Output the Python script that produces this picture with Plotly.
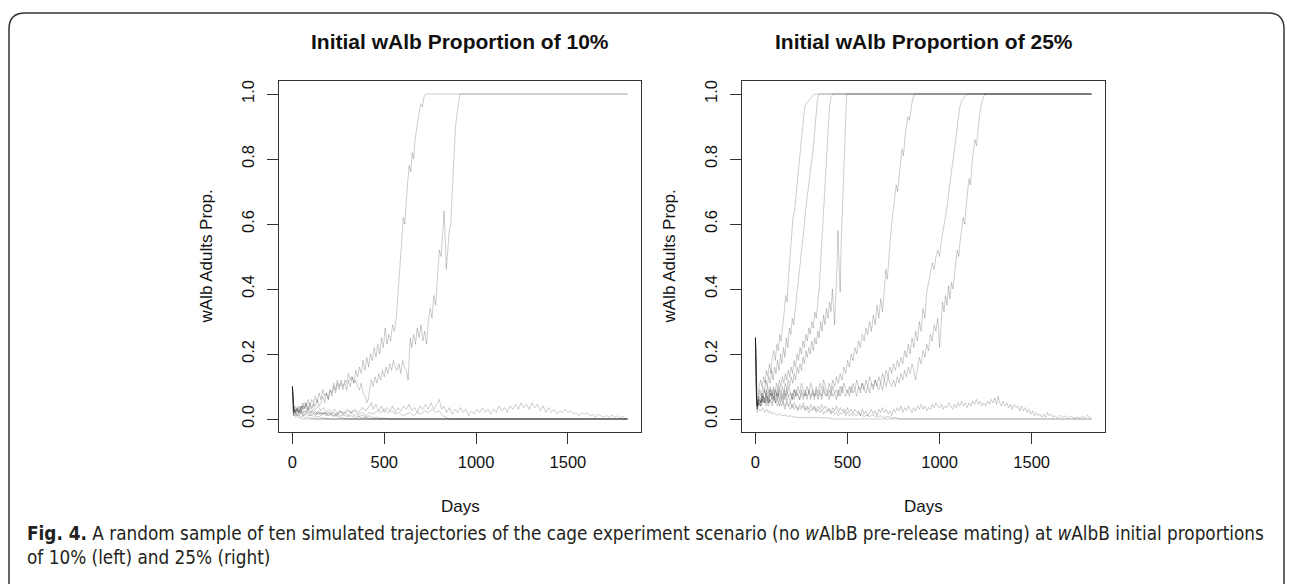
import plotly.graph_objects as go

# ---------------- data ----------------
x_ticks = [0, 500, 1000, 1500]
y_ticks = [0.0, 0.2, 0.4, 0.6, 0.8, 1.0]
titles = ["Initial wAlb Proportion of 10%", "Initial wAlb Proportion of 25%"]
x_label = "Days"
y_label = "wAlb Adults Prop."
caption_1 = ("<b>Fig. 4.</b> A random sample of ten simulated trajectories of the cage experiment scenario "
             "(no <i>w</i>AlbB pre-release mating) at <i>w</i>AlbB initial proportions")
caption_2 = "of 10% (left) and 25% (right)"

# ---- left panel: initial proportion 10% (day, proportion) ----
p10_a = [(0,0.10),(4,0.05),(8,0.03),(15,0.02),(25,0.03),(35,0.02),(45,0.04),(55,0.03),(65,0.05),(75,0.04),(85,0.06),(95,0.04),(105,0.06),(115,0.05),(125,0.07),(135,0.05),(145,0.08),(155,0.06),(165,0.09),(175,0.07),(185,0.08),(195,0.06),(205,0.09),(215,0.08),(225,0.11),(235,0.09),(245,0.12),(255,0.10),(265,0.11),(275,0.09),(285,0.12),(295,0.11),(305,0.14),(315,0.12),(325,0.13),(335,0.11),(345,0.15),(355,0.13),(365,0.16),(375,0.14),(385,0.18),(395,0.15),(405,0.19),(415,0.16),(425,0.20),(435,0.18),(445,0.22),(455,0.19),(465,0.23),(475,0.20),(485,0.25),(495,0.22),(505,0.28),(515,0.23),(525,0.26),(535,0.24),(545,0.29),(555,0.27),(565,0.31),(572,0.36),(580,0.42),(588,0.50),(596,0.57),(604,0.62),(612,0.60),(620,0.68),(628,0.73),(636,0.78),(644,0.76),(652,0.82),(660,0.80),(668,0.86),(676,0.90),(684,0.92),(692,0.95),(700,0.97),(708,0.96),(716,0.99),(725,1.0),(1825,1.0)]
p10_b = [(0,0.10),(4,0.05),(8,0.02),(15,0.03),(25,0.02),(35,0.03),(45,0.02),(55,0.04),(65,0.03),(75,0.05),(85,0.03),(95,0.04),(105,0.03),(115,0.05),(125,0.04),(135,0.06),(145,0.04),(155,0.05),(165,0.07),(175,0.05),(185,0.08),(195,0.06),(205,0.09),(215,0.07),(225,0.10),(235,0.08),(245,0.11),(255,0.09),(265,0.12),(275,0.10),(285,0.11),(295,0.09),(305,0.12),(315,0.10),(325,0.13),(335,0.11),(345,0.12),(355,0.10),(365,0.09),(375,0.11),(385,0.08),(395,0.07),(405,0.05),(412,0.06),(420,0.09),(430,0.12),(440,0.10),(450,0.13),(460,0.11),(470,0.14),(480,0.12),(490,0.15),(500,0.13),(510,0.16),(520,0.14),(530,0.17),(540,0.15),(550,0.18),(560,0.16),(570,0.15),(580,0.17),(590,0.14),(600,0.18),(610,0.16),(620,0.15),(630,0.12),(636,0.19),(642,0.25),(650,0.22),(660,0.26),(670,0.23),(680,0.28),(690,0.25),(700,0.29),(710,0.24),(720,0.27),(730,0.23),(740,0.30),(750,0.34),(760,0.31),(770,0.38),(780,0.35),(790,0.44),(800,0.52),(810,0.50),(818,0.58),(826,0.64),(832,0.55),(838,0.46),(846,0.52),(854,0.58),(862,0.60),(868,0.68),(874,0.76),(880,0.84),(888,0.90),(896,0.94),(904,0.97),(912,1.0),(1825,1.0)]
p10_c = [(0,0.10),(4,0.05),(8,0.03),(15,0.02),(30,0.01),(45,0.02),(60,0.01),(80,0.02),(100,0.01),(120,0.02),(140,0.015),(160,0.02),(180,0.01),(200,0.02),(220,0.015),(240,0.01),(260,0.02),(280,0.015),(300,0.025),(320,0.02),(340,0.03),(360,0.02),(380,0.035),(400,0.025),(420,0.04),(430,0.05),(440,0.03),(455,0.045),(470,0.025),(485,0.04),(500,0.02),(515,0.035),(530,0.025),(545,0.04),(560,0.02),(575,0.035),(590,0.025),(605,0.04),(620,0.03),(635,0.045),(650,0.025),(665,0.035),(680,0.02),(695,0.04),(710,0.03),(725,0.045),(740,0.03),(755,0.05),(770,0.03),(785,0.045),(800,0.06),(812,0.03),(825,0.04),(840,0.02),(855,0.035),(870,0.015),(885,0.03),(900,0.02),(915,0.035),(930,0.02),(945,0.03),(960,0.01),(975,0.025),(990,0.015),(1005,0.03),(1020,0.02),(1035,0.035),(1050,0.02),(1065,0.03),(1080,0.015),(1095,0.03),(1110,0.02),(1125,0.04),(1140,0.025),(1155,0.035),(1170,0.02),(1185,0.04),(1200,0.03),(1215,0.045),(1230,0.03),(1245,0.05),(1260,0.035),(1275,0.045),(1290,0.03),(1305,0.05),(1320,0.035),(1335,0.045),(1350,0.025),(1365,0.04),(1380,0.02),(1395,0.035),(1410,0.02),(1425,0.03),(1440,0.015),(1455,0.025),(1470,0.02),(1485,0.03),(1500,0.02),(1515,0.025),(1530,0.015),(1545,0.02),(1560,0.01),(1575,0.02),(1590,0.015),(1605,0.02),(1620,0.01),(1635,0.015),(1650,0.005),(1665,0.015),(1680,0.01),(1695,0.005),(1710,0.01),(1725,0.005),(1740,0.012),(1755,0.005),(1770,0.01),(1785,0.003),(1800,0.008),(1812,0.0),(1825,0.0)]
p10_d = [(0,0.10),(4,0.04),(8,0.02),(20,0.03),(35,0.02),(50,0.03),(65,0.02),(80,0.025),(95,0.015),(110,0.02),(125,0.01),(140,0.02),(160,0.015),(180,0.02),(200,0.01),(220,0.02),(240,0.015),(260,0.025),(280,0.02),(300,0.03),(320,0.02),(340,0.025),(360,0.015),(380,0.02),(400,0.01),(420,0.02),(440,0.015),(460,0.025),(480,0.02),(500,0.03),(520,0.02),(540,0.025),(560,0.015),(580,0.02),(600,0.01),(620,0.015),(640,0.02),(660,0.01),(680,0.02),(700,0.015),(720,0.025),(740,0.02),(760,0.03),(780,0.02),(800,0.025),(820,0.01),(840,0.005),(855,0.0),(1825,0.0)]
p10_e = [(0,0.10),(3,0.05),(7,0.03),(15,0.025),(25,0.035),(35,0.02),(45,0.03),(55,0.015),(65,0.025),(75,0.02),(85,0.03),(95,0.02),(110,0.025),(125,0.015),(140,0.02),(155,0.01),(170,0.02),(185,0.015),(200,0.02),(220,0.01),(240,0.015),(260,0.01),(280,0.012),(300,0.008),(320,0.01),(340,0.005),(360,0.008),(380,0.003),(400,0.005),(420,0.002),(440,0.0),(1825,0.0)]
p10_f = [(0,0.10),(3,0.04),(6,0.02),(12,0.03),(20,0.02),(30,0.035),(40,0.02),(50,0.04),(60,0.03),(70,0.04),(80,0.025),(90,0.035),(100,0.02),(115,0.03),(130,0.02),(145,0.025),(160,0.015),(175,0.02),(190,0.01),(205,0.015),(220,0.008),(240,0.01),(260,0.005),(280,0.003),(300,0.0),(1825,0.0)]
p10_g = [(0,0.10),(3,0.04),(6,0.015),(12,0.025),(20,0.01),(30,0.02),(40,0.015),(50,0.025),(60,0.01),(75,0.015),(90,0.01),(105,0.012),(120,0.005),(140,0.008),(160,0.003),(180,0.002),(200,0.0),(1825,0.0)]
p10_h = [(0,0.10),(2,0.05),(5,0.02),(10,0.01),(18,0.02),(26,0.01),(35,0.015),(45,0.005),(55,0.01),(70,0.004),(85,0.006),(100,0.002),(120,0.0),(1825,0.0)]
p10_i = [(0,0.10),(2,0.04),(5,0.01),(10,0.015),(18,0.005),(28,0.008),(40,0.003),(50,0.002),(60,0.0),(1825,0.0)]
p10_j = [(0,0.10),(4,0.05),(8,0.03),(15,0.04),(25,0.025),(35,0.04),(45,0.03),(55,0.05),(65,0.035),(75,0.045),(85,0.03),(95,0.05),(105,0.035),(115,0.045),(125,0.03),(140,0.04),(155,0.025),(170,0.035),(185,0.02),(200,0.03),(215,0.02),(230,0.03),(245,0.015),(260,0.025),(275,0.015),(290,0.02),(305,0.01),(320,0.02),(335,0.01),(350,0.015),(365,0.008),(380,0.012),(400,0.006),(420,0.01),(440,0.004),(460,0.006),(480,0.002),(500,0.003),(520,0.0),(1825,0.0)]

# ---- right panel: initial proportion 25% (day, proportion) ----
p25_a = [(0,0.25),(3,0.15),(6,0.08),(10,0.05),(15,0.07),(20,0.10),(28,0.12),(36,0.10),(44,0.13),(52,0.11),(60,0.15),(68,0.13),(76,0.17),(84,0.14),(92,0.19),(100,0.21),(108,0.18),(116,0.23),(124,0.21),(132,0.26),(140,0.24),(148,0.30),(156,0.33),(164,0.38),(172,0.36),(180,0.44),(188,0.50),(196,0.56),(204,0.62),(212,0.64),(220,0.69),(228,0.74),(236,0.78),(244,0.83),(252,0.88),(260,0.92),(268,0.96),(276,0.97),(290,0.98),(305,0.99),(320,1.0),(1825,1.0)]
p25_b = [(0,0.25),(3,0.14),(6,0.08),(10,0.04),(16,0.07),(24,0.09),(32,0.07),(40,0.10),(48,0.08),(56,0.12),(64,0.10),(72,0.13),(80,0.11),(88,0.15),(96,0.12),(104,0.16),(112,0.14),(120,0.18),(128,0.15),(136,0.20),(144,0.17),(152,0.22),(160,0.19),(168,0.25),(176,0.22),(184,0.28),(192,0.26),(200,0.31),(208,0.29),(216,0.35),(224,0.38),(232,0.42),(240,0.46),(248,0.50),(256,0.54),(264,0.59),(272,0.64),(280,0.68),(288,0.72),(296,0.76),(304,0.79),(312,0.82),(320,0.88),(328,0.93),(336,0.98),(345,1.0),(1825,1.0)]
p25_c = [(0,0.25),(3,0.13),(6,0.07),(10,0.04),(18,0.06),(26,0.05),(34,0.08),(42,0.06),(50,0.09),(58,0.07),(66,0.10),(74,0.08),(82,0.09),(90,0.07),(98,0.10),(106,0.08),(114,0.11),(122,0.09),(130,0.12),(138,0.10),(146,0.13),(154,0.11),(162,0.14),(170,0.12),(178,0.15),(186,0.13),(194,0.16),(202,0.14),(210,0.18),(218,0.16),(226,0.20),(234,0.18),(242,0.22),(250,0.20),(258,0.24),(266,0.22),(274,0.26),(282,0.24),(290,0.28),(298,0.26),(306,0.30),(314,0.28),(322,0.33),(330,0.31),(338,0.36),(346,0.40),(354,0.48),(362,0.56),(370,0.64),(378,0.72),(386,0.80),(394,0.88),(402,0.96),(410,0.99),(420,1.0),(1825,1.0)]
p25_d = [(0,0.25),(3,0.14),(6,0.07),(10,0.03),(18,0.05),(26,0.04),(34,0.07),(42,0.05),(50,0.06),(58,0.04),(66,0.07),(74,0.05),(82,0.08),(90,0.06),(98,0.09),(106,0.07),(114,0.08),(122,0.06),(130,0.09),(138,0.07),(146,0.10),(154,0.08),(162,0.11),(170,0.09),(178,0.12),(186,0.10),(194,0.13),(202,0.11),(210,0.14),(218,0.12),(226,0.16),(234,0.14),(242,0.17),(250,0.15),(258,0.19),(266,0.17),(274,0.21),(282,0.19),(290,0.22),(298,0.20),(306,0.24),(314,0.21),(322,0.25),(330,0.23),(338,0.27),(346,0.25),(354,0.30),(362,0.27),(370,0.32),(378,0.29),(386,0.34),(394,0.31),(402,0.36),(410,0.33),(418,0.40),(424,0.32),(430,0.29),(436,0.38),(442,0.45),(448,0.58),(454,0.50),(460,0.39),(466,0.55),(472,0.66),(478,0.72),(484,0.82),(490,0.92),(496,1.0),(1825,1.0)]
p25_e = [(0,0.25),(3,0.13),(6,0.06),(10,0.04),(20,0.07),(30,0.05),(40,0.08),(50,0.06),(60,0.09),(70,0.07),(80,0.10),(90,0.08),(100,0.06),(110,0.09),(120,0.07),(130,0.10),(140,0.08),(150,0.06),(160,0.09),(170,0.07),(180,0.10),(190,0.08),(200,0.06),(210,0.09),(220,0.07),(230,0.10),(240,0.08),(250,0.11),(260,0.09),(270,0.07),(280,0.10),(290,0.08),(300,0.11),(310,0.09),(320,0.07),(330,0.10),(340,0.08),(350,0.11),(360,0.09),(370,0.12),(380,0.10),(390,0.08),(400,0.11),(410,0.09),(420,0.12),(430,0.10),(440,0.13),(450,0.11),(460,0.14),(470,0.12),(480,0.16),(490,0.14),(500,0.18),(510,0.16),(520,0.20),(530,0.18),(540,0.22),(550,0.20),(560,0.24),(570,0.22),(580,0.26),(590,0.24),(600,0.28),(610,0.26),(620,0.30),(630,0.27),(640,0.32),(650,0.29),(660,0.35),(670,0.31),(680,0.37),(690,0.33),(700,0.40),(708,0.46),(716,0.43),(724,0.50),(732,0.55),(740,0.60),(748,0.64),(756,0.68),(764,0.72),(772,0.70),(780,0.76),(788,0.79),(796,0.83),(804,0.81),(812,0.87),(820,0.90),(828,0.93),(836,0.92),(844,0.96),(852,0.98),(862,1.0),(1825,1.0)]
p25_f = [(0,0.25),(3,0.12),(6,0.06),(10,0.03),(20,0.05),(30,0.04),(40,0.06),(50,0.05),(60,0.07),(70,0.05),(80,0.08),(90,0.06),(100,0.07),(110,0.05),(120,0.08),(130,0.06),(140,0.07),(150,0.05),(160,0.08),(170,0.06),(180,0.07),(190,0.05),(200,0.08),(210,0.06),(220,0.09),(230,0.07),(240,0.06),(250,0.08),(260,0.06),(270,0.09),(280,0.07),(290,0.08),(300,0.06),(310,0.09),(320,0.07),(330,0.08),(340,0.06),(350,0.09),(360,0.07),(370,0.10),(380,0.08),(390,0.07),(400,0.09),(410,0.07),(420,0.10),(430,0.08),(440,0.09),(450,0.07),(460,0.10),(470,0.08),(480,0.11),(490,0.09),(500,0.08),(510,0.10),(520,0.08),(530,0.11),(540,0.09),(550,0.12),(560,0.10),(570,0.09),(580,0.11),(590,0.09),(600,0.12),(610,0.10),(620,0.13),(630,0.11),(640,0.10),(650,0.12),(660,0.10),(670,0.13),(680,0.11),(690,0.14),(700,0.12),(710,0.15),(720,0.13),(730,0.16),(740,0.14),(750,0.17),(760,0.15),(770,0.18),(780,0.16),(790,0.19),(800,0.17),(810,0.21),(820,0.19),(830,0.23),(840,0.20),(850,0.25),(860,0.22),(870,0.27),(880,0.24),(890,0.30),(900,0.27),(910,0.34),(920,0.31),(930,0.39),(940,0.42),(950,0.45),(960,0.48),(970,0.46),(980,0.50),(990,0.52),(1000,0.50),(1010,0.55),(1020,0.58),(1030,0.62),(1040,0.65),(1050,0.70),(1060,0.74),(1070,0.78),(1080,0.82),(1090,0.87),(1100,0.92),(1110,0.96),(1120,0.98),(1135,0.99),(1150,1.0),(1825,1.0)]
p25_g = [(0,0.25),(3,0.13),(6,0.07),(10,0.04),(20,0.06),(30,0.05),(40,0.07),(50,0.06),(60,0.08),(70,0.06),(80,0.09),(90,0.07),(100,0.08),(110,0.06),(120,0.09),(130,0.07),(140,0.06),(150,0.08),(160,0.06),(170,0.09),(180,0.07),(190,0.08),(200,0.06),(210,0.09),(220,0.07),(230,0.08),(240,0.06),(250,0.09),(260,0.07),(270,0.08),(280,0.06),(290,0.09),(300,0.07),(310,0.08),(320,0.06),(330,0.09),(340,0.07),(350,0.08),(360,0.06),(370,0.09),(380,0.07),(390,0.08),(400,0.06),(410,0.09),(420,0.07),(430,0.08),(440,0.06),(450,0.09),(460,0.07),(470,0.10),(480,0.08),(490,0.07),(500,0.09),(510,0.07),(520,0.10),(530,0.08),(540,0.09),(550,0.07),(560,0.10),(570,0.08),(580,0.11),(590,0.09),(600,0.08),(610,0.10),(620,0.08),(630,0.11),(640,0.09),(650,0.12),(660,0.10),(670,0.09),(680,0.11),(690,0.09),(700,0.12),(710,0.10),(720,0.13),(730,0.11),(740,0.10),(750,0.12),(760,0.10),(770,0.13),(780,0.11),(790,0.14),(800,0.12),(810,0.15),(820,0.13),(830,0.16),(840,0.14),(850,0.17),(860,0.15),(870,0.12),(880,0.16),(890,0.19),(900,0.17),(910,0.21),(920,0.19),(930,0.23),(940,0.21),(950,0.26),(960,0.24),(970,0.29),(980,0.27),(990,0.31),(1000,0.22),(1008,0.30),(1016,0.36),(1024,0.33),(1032,0.38),(1040,0.35),(1048,0.41),(1056,0.37),(1064,0.42),(1072,0.40),(1080,0.45),(1088,0.48),(1096,0.52),(1104,0.50),(1112,0.55),(1120,0.58),(1128,0.62),(1136,0.60),(1144,0.66),(1152,0.70),(1160,0.74),(1168,0.72),(1176,0.79),(1184,0.83),(1192,0.86),(1200,0.84),(1208,0.90),(1216,0.93),(1224,0.96),(1232,0.98),(1245,1.0),(1825,1.0)]
p25_h = [(0,0.25),(3,0.10),(6,0.04),(10,0.02),(20,0.03),(30,0.025),(40,0.035),(50,0.02),(60,0.03),(70,0.02),(80,0.025),(90,0.015),(100,0.02),(115,0.012),(130,0.016),(145,0.01),(160,0.012),(175,0.008),(190,0.01),(205,0.006),(220,0.005),(240,0.006),(260,0.004),(280,0.005),(300,0.004),(330,0.005),(360,0.003),(390,0.004),(410,0.002),(425,0.0),(1825,0.0)]
p25_i = [(0,0.25),(3,0.12),(6,0.06),(10,0.04),(20,0.06),(30,0.05),(40,0.07),(50,0.05),(60,0.06),(70,0.04),(80,0.06),(90,0.05),(100,0.07),(110,0.05),(120,0.06),(130,0.04),(140,0.06),(150,0.05),(160,0.04),(170,0.06),(180,0.04),(190,0.05),(200,0.035),(210,0.05),(220,0.04),(230,0.03),(240,0.045),(250,0.035),(260,0.05),(270,0.03),(280,0.04),(290,0.03),(300,0.045),(310,0.03),(320,0.04),(330,0.025),(340,0.04),(350,0.03),(360,0.045),(370,0.03),(380,0.04),(390,0.025),(400,0.035),(410,0.02),(420,0.035),(430,0.025),(440,0.04),(450,0.02),(460,0.035),(470,0.025),(480,0.03),(490,0.02),(500,0.035),(510,0.02),(520,0.03),(530,0.015),(540,0.03),(550,0.02),(560,0.025),(570,0.01),(580,0.03),(590,0.015),(600,0.025),(610,0.01),(620,0.02),(630,0.03),(640,0.015),(650,0.025),(660,0.01),(670,0.03),(680,0.02),(690,0.035),(700,0.02),(710,0.03),(720,0.015),(730,0.025),(740,0.01),(750,0.03),(760,0.02),(770,0.035),(780,0.025),(790,0.04),(800,0.02),(810,0.035),(820,0.025),(830,0.04),(840,0.03),(850,0.02),(860,0.035),(870,0.025),(880,0.04),(890,0.03),(900,0.045),(910,0.03),(920,0.04),(930,0.025),(940,0.035),(950,0.03),(960,0.045),(970,0.035),(980,0.05),(990,0.04),(1000,0.035),(1010,0.045),(1020,0.03),(1030,0.04),(1040,0.035),(1050,0.05),(1060,0.04),(1070,0.03),(1080,0.045),(1090,0.035),(1100,0.05),(1110,0.04),(1120,0.055),(1130,0.04),(1140,0.05),(1150,0.035),(1160,0.05),(1170,0.04),(1180,0.055),(1190,0.045),(1200,0.06),(1210,0.045),(1220,0.055),(1230,0.04),(1240,0.05),(1250,0.04),(1260,0.055),(1270,0.045),(1280,0.06),(1290,0.05),(1300,0.065),(1310,0.045),(1318,0.07),(1326,0.05),(1335,0.04),(1345,0.055),(1355,0.04),(1365,0.05),(1375,0.035),(1385,0.045),(1395,0.03),(1405,0.045),(1415,0.035),(1425,0.04),(1435,0.025),(1445,0.04),(1455,0.025),(1465,0.035),(1475,0.02),(1485,0.03),(1495,0.015),(1505,0.025),(1515,0.01),(1525,0.02),(1535,0.01),(1545,0.015),(1555,0.005),(1565,0.015),(1575,0.005),(1585,0.02),(1595,0.01),(1605,0.015),(1615,0.005),(1625,0.01),(1640,0.003),(1655,0.012),(1670,0.005),(1685,0.01),(1700,0.003),(1715,0.008),(1730,0.002),(1745,0.006),(1760,0.002),(1775,0.008),(1790,0.003),(1805,0.012),(1815,0.004),(1825,0.002)]
p25_j = [(0,0.25),(3,0.11),(6,0.05),(10,0.03),(20,0.05),(30,0.04),(40,0.06),(50,0.05),(60,0.07),(70,0.05),(80,0.06),(90,0.04),(100,0.06),(110,0.05),(120,0.04),(130,0.06),(140,0.04),(150,0.05),(160,0.03),(170,0.05),(180,0.04),(190,0.03),(200,0.045),(210,0.03),(220,0.04),(230,0.025),(240,0.035),(250,0.03),(260,0.04),(270,0.025),(280,0.035),(290,0.02),(300,0.03),(310,0.025),(320,0.035),(330,0.02),(340,0.03),(350,0.02),(360,0.03),(370,0.015),(380,0.025),(390,0.02),(400,0.03),(410,0.015),(420,0.025),(430,0.015),(440,0.02),(450,0.01),(460,0.02),(470,0.015),(480,0.025),(490,0.01),(500,0.02),(510,0.01),(520,0.015),(530,0.008),(540,0.015),(550,0.01),(560,0.02),(570,0.01),(580,0.015),(590,0.006),(600,0.012),(620,0.008),(640,0.012),(660,0.005),(680,0.01),(700,0.004),(720,0.008),(740,0.003),(760,0.005),(780,0.0),(1825,0.0)]

left_trajectories = [p10_a, p10_b, p10_c, p10_d, p10_e, p10_f, p10_g, p10_h, p10_i, p10_j]
right_trajectories = [p25_a, p25_b, p25_c, p25_d, p25_e, p25_f, p25_g, p25_h, p25_i, p25_j]

# ---------------- layout geometry (pixels) ----------------
W, H = 1290, 584
panels = [(279, 641), (742, 1105)]   # plot-box left/right
box_top, box_bottom = 81, 432
x_range = [-73, 1898]
y_range = [-0.04, 1.04]

LINE_COLOR = "rgba(0,0,0,0.2)"
AXIS_COLOR = "#333333"
FONT = "Liberation Sans, Arial, Helvetica, sans-serif"


def px(x):
    return x / W


def py(y):
    return 1 - y / H


fig = go.Figure()
for k, trajs in enumerate([left_trajectories, right_trajectories]):
    xa = "x" if k == 0 else "x2"
    ya = "y" if k == 0 else "y2"
    for t in trajs:
        fig.add_trace(go.Scatter(
            x=[p[0] for p in t], y=[p[1] for p in t], mode="lines",
            line=dict(color=LINE_COLOR, width=1), xaxis=xa, yaxis=ya,
            showlegend=False, hoverinfo="skip"))

axis_common = dict(showgrid=False, zeroline=False, showline=True, mirror=True,
                   linecolor=AXIS_COLOR, linewidth=1.2, ticks="outside", ticklen=11,
                   tickwidth=1, tickcolor=AXIS_COLOR,
                   tickfont=dict(family=FONT, size=16.5, color="#111"))

layout = dict(width=W, height=H, margin=dict(l=0, r=0, t=0, b=0),
              paper_bgcolor="white", plot_bgcolor="white", showlegend=False)
for k, (l, r) in enumerate(panels):
    sfx = "" if k == 0 else "2"
    layout["xaxis" + sfx] = dict(axis_common, domain=[px(l), px(r)], range=x_range,
                                 tickvals=x_ticks, anchor="y" + sfx, ticklabelstandoff=4)
    layout["yaxis" + sfx] = dict(axis_common, domain=[py(box_bottom), py(box_top)], range=y_range,
                                 tickvals=y_ticks, tickformat=".1f", tickangle=-90,
                                 anchor="x" + sfx, ticklabelstandoff=6)
fig.update_layout(**layout)

annotations = []
for k, (l, r) in enumerate(panels):
    cx = (l + r) / 2
    annotations.append(dict(text="<b>" + titles[k] + "</b>", x=px(cx), y=py(41), xref="paper", yref="paper",
                            showarrow=False, xanchor="center", yanchor="middle",
                            font=dict(family=FONT, size=21, color="#111")))
    annotations.append(dict(text=x_label, x=px(cx), y=py(506), xref="paper", yref="paper",
                            showarrow=False, xanchor="center", yanchor="middle",
                            font=dict(family=FONT, size=17, color="#111")))
    annotations.append(dict(text=y_label, x=px(l - 73), y=py((box_top + box_bottom) / 2),
                            xref="paper", yref="paper", showarrow=False, textangle=-90,
                            xanchor="center", yanchor="middle",
                            font=dict(family=FONT, size=17, color="#111")))
CAP_FONT = "Liberation Sans Narrow, DejaVu Sans Condensed, Open Sans, sans-serif"
annotations.append(dict(text=caption_1, x=px(25), y=py(533), xref="paper", yref="paper",
                        showarrow=False, xanchor="left", yanchor="middle",
                        font=dict(family=CAP_FONT, size=18.8, color="#231f20")))
annotations.append(dict(text=caption_2, x=px(25), y=py(557), xref="paper", yref="paper",
                        showarrow=False, xanchor="left", yanchor="middle",
                        font=dict(family=CAP_FONT, size=18.8, color="#231f20")))
fig.update_layout(annotations=annotations)

# rounded outer frame (open at the bottom)
x0, x1, y0, r = 9, 1284, 13, 16
path = (f"M {px(x0)},{py(H + 5)} L {px(x0)},{py(y0 + r)} "
        f"Q {px(x0)},{py(y0)} {px(x0 + r)},{py(y0)} "
        f"L {px(x1 - r)},{py(y0)} Q {px(x1)},{py(y0)} {px(x1)},{py(y0 + r)} "
        f"L {px(x1)},{py(H + 5)}")
fig.add_shape(type="path", path=path, xref="paper", yref="paper",
              line=dict(color="#333333", width=1.5))

fig.write_html("out.html", config={"displayModeBar": False},
               post_script="document.body.style.margin='0';document.body.style.overflow='hidden';")
